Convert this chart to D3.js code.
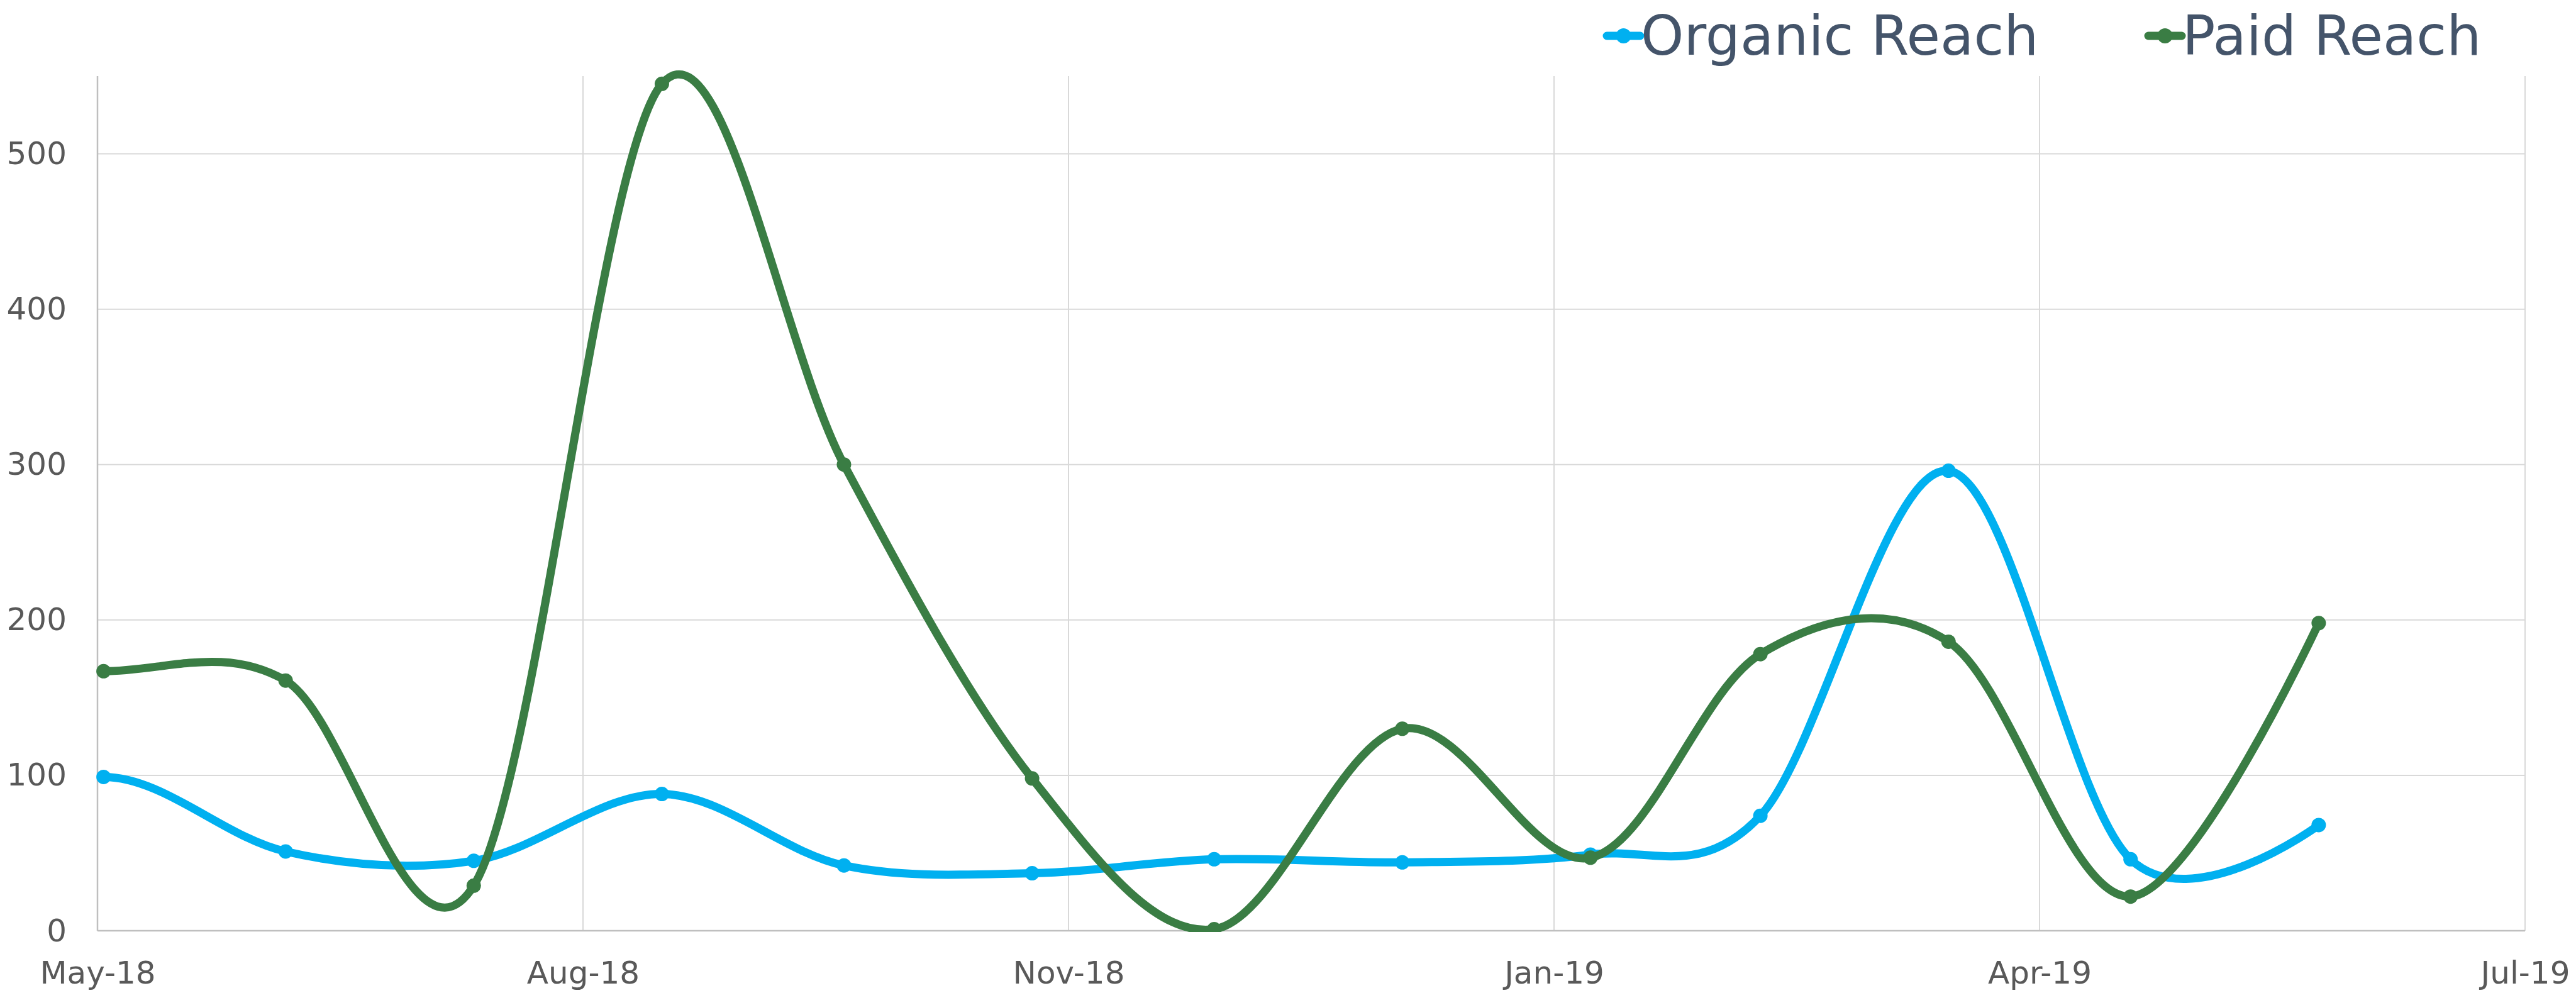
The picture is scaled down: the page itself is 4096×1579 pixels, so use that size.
<!DOCTYPE html>
<html>
<head>
<meta charset="utf-8">
<script src="https://cdnjs.cloudflare.com/ajax/libs/d3/7.8.5/d3.min.js"></script>
<style>
  html, body { margin: 0; padding: 0; background: #fff; }
  svg { display: block; }
</style>
</head>
<body>
<div id="chart"></div>
<script>
// monthly reach, Jun-18 .. Jun-19
var months = ['2018-06-01', '2018-07-01', '2018-08-01', '2018-09-01', '2018-10-01', '2018-11-01', '2018-12-01',
  '2019-01-01', '2019-02-01', '2019-03-01', '2019-04-01', '2019-05-01', '2019-06-01'];
var organicReach = [99, 51, 45, 88, 42, 37, 46, 44, 49, 74, 296, 46, 68];
var paidReach = [167, 161, 29, 545, 300, 98, 1, 130, 47, 178, 186, 22, 198];
var seriesNames = ['Organic Reach', 'Paid Reach'];
var yTicks = [0, 100, 200, 300, 400, 500];
var xTickLabels = ['May-18', 'Aug-18', 'Nov-18', 'Jan-19', 'Apr-19', 'Jul-19'];

// smoothed line like the spreadsheet one: catmull-rom (1/6) inside,
// flat tangent at the first point, plain end at the last one
function SmoothLine(context) { this._context = context; }
SmoothLine.prototype = {
  areaStart: function() { this._line = 0; },
  areaEnd: function() { this._line = NaN; },
  lineStart: function() { this._pts = []; },
  lineEnd: function() {
    var p = this._pts, n = p.length, ctx = this._context;
    if (!n) return;
    ctx.moveTo(p[0][0], p[0][1]);
    for (var i = 0; i < n - 1; i++) {
      var a = p[i - 1], b = p[i], c = p[i + 1], d = p[i + 2];
      var c1x, c1y, c2x, c2y;
      if (a) { c1x = b[0] + (c[0] - a[0]) / 6; c1y = b[1] + (c[1] - a[1]) / 6; }
      else { c1x = b[0] + (c[0] - b[0]) / 3; c1y = b[1]; }
      if (d) { c2x = c[0] - (d[0] - b[0]) / 6; c2y = c[1] - (d[1] - b[1]) / 6; }
      else { c2x = c[0]; c2y = c[1]; }
      ctx.bezierCurveTo(c1x, c1y, c2x, c2y, c[0], c[1]);
    }
  },
  point: function(x, y) { this._pts.push([+x, +y]); }
};
function curveSmooth(context) { return new SmoothLine(context); }

(function(d3) {
  'use strict';
  var width = 4096;
  var height = 1579;
  var margin = { top: 121, right: 81, bottom: 99, left: 155 };
  var colors = ['#00B0F0', '#3A7D44'];
  var lineWidth = 13;
  var markerRadius = 11.5;
  var font = '"DejaVu Sans", sans-serif';

  var parse = d3.utcParse('%Y-%m-%d');
  var dates = months.map(parse);
  var start = Date.UTC(2018, 4, 31);
  var tickDates = xTickLabels.map(function(d, i) { return d3.utcDay.offset(new Date(start), 80 * i); });

  var x = d3.scaleUtc()
    .domain([tickDates[0], tickDates[tickDates.length - 1]])
    .range([margin.left, width - margin.right]);
  var y = d3.scaleLinear()
    .domain([0, 550])
    .range([height - margin.bottom, margin.top]);

  var svg = d3.select('#chart')
    .append('svg')
    .attr('width', width)
    .attr('height', height);

  svg.append('defs').append('clipPath')
    .attr('id', 'plot-clip')
    .append('rect')
    .attr('x', margin.left - 20)
    .attr('y', margin.top - 20)
    .attr('width', width - margin.left - margin.right + 40)
    .attr('height', height - margin.top - margin.bottom + 22);

  // gridlines
  svg.append('g')
    .selectAll('line')
    .data(yTicks.slice(1))
    .enter()
    .append('line')
    .attr('x1', margin.left)
    .attr('x2', width - margin.right)
    .attr('y1', function(d) { return y(d); })
    .attr('y2', function(d) { return y(d); })
    .attr('stroke', '#D9D9D9')
    .attr('stroke-width', 2);
  svg.append('g')
    .selectAll('line')
    .data(tickDates.slice(1))
    .enter()
    .append('line')
    .attr('x1', function(d) { return x(d); })
    .attr('x2', function(d) { return x(d); })
    .attr('y1', margin.top)
    .attr('y2', y(0))
    .attr('stroke', '#D9D9D9')
    .attr('stroke-width', 2);

  // axes
  var yAxis = svg.append('g')
    .attr('transform', 'translate(' + margin.left + ',0)')
    .call(d3.axisLeft(y).tickValues(yTicks).tickSize(0).tickPadding(49));
  yAxis.select('.domain').remove();
  var xAxis = svg.append('g')
    .attr('transform', 'translate(0,' + y(0) + ')')
    .call(d3.axisBottom(x).tickValues(tickDates).tickSize(0).tickPadding(48)
      .tickFormat(function(d, i) { return xTickLabels[i]; }));
  xAxis.select('.domain').remove();
  svg.selectAll('.tick text')
    .attr('fill', '#595959')
    .style('font-family', font)
    .style('font-size', '50px');

  svg.append('line')
    .attr('x1', margin.left).attr('x2', margin.left)
    .attr('y1', margin.top).attr('y2', y(0))
    .attr('stroke', '#BFBFBF').attr('stroke-width', 2.5);
  svg.append('line')
    .attr('x1', margin.left).attr('x2', width - margin.right)
    .attr('y1', y(0)).attr('y2', y(0))
    .attr('stroke', '#BFBFBF').attr('stroke-width', 2.5);

  var line = d3.line()
    .x(function(d) { return x(d.date); })
    .y(function(d) { return y(d.value); })
    .curve(curveSmooth);

  var series = [organicReach, paidReach].map(function(values, s) {
    return {
      name: seriesNames[s],
      color: colors[s],
      points: values.map(function(v, i) { return { date: dates[i], value: v }; })
    };
  });

  var plot = svg.append('g').attr('clip-path', 'url(#plot-clip)');
  series.forEach(function(s) {
    var g = plot.append('g');
    g.append('path')
      .attr('d', line(s.points))
      .attr('fill', 'none')
      .attr('stroke', s.color)
      .attr('stroke-width', lineWidth)
      .attr('stroke-linejoin', 'round')
      .attr('stroke-linecap', 'round');
    g.selectAll('circle')
      .data(s.points)
      .enter()
      .append('circle')
      .attr('cx', function(d) { return x(d.date); })
      .attr('cy', function(d) { return y(d.value); })
      .attr('r', markerRadius)
      .attr('fill', s.color);
  });

  // legend
  var legendX = [2555, 3416];
  var legend = svg.selectAll('.legend')
    .data(series)
    .enter()
    .append('g')
    .attr('class', 'legend')
    .attr('transform', function(d, i) { return 'translate(' + legendX[i] + ',57)'; });
  legend.append('line')
    .attr('x1', 0).attr('x2', 53)
    .attr('y1', 0).attr('y2', 0)
    .attr('stroke', function(d) { return d.color; })
    .attr('stroke-width', 13)
    .attr('stroke-linecap', 'round');
  legend.append('circle')
    .attr('cx', 26.5)
    .attr('cy', 0)
    .attr('r', 12)
    .attr('fill', function(d) { return d.color; });
  legend.append('text')
    .attr('x', 54)
    .attr('y', 30)
    .attr('fill', '#44546A')
    .style('font-family', font)
    .style('font-size', '87px')
    .text(function(d) { return d.name; });
})(window.d3);
</script>
</body>
</html>
